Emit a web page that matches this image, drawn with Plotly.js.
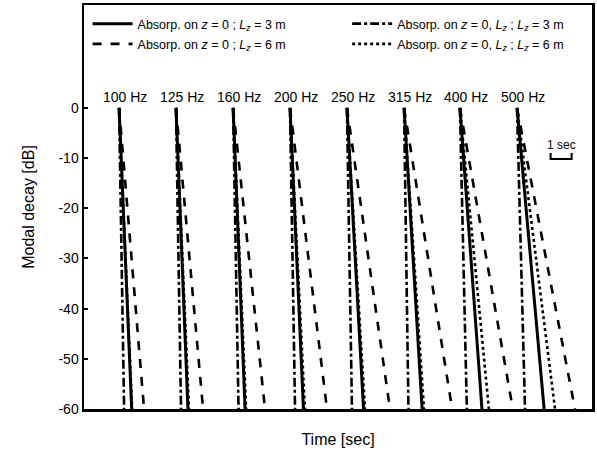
<!DOCTYPE html>
<html>
<head>
<meta charset="utf-8">
<script src="https://cdn.plot.ly/plotly-3.0.1.min.js"></script>
<style>html,body{margin:0;padding:0;background:#fff;}#chart{width:597px;height:464px;}</style>
</head>
<body>
<div id="chart"></div>
<script>
// Frequency bands and the time (s) at which each band's decay starts
const bands = ["100 Hz", "125 Hz", "160 Hz", "200 Hz", "250 Hz", "315 Hz", "400 Hz", "500 Hz"];
const startTimes = [1.67, 4.38, 7.10, 9.81, 12.52, 15.24, 17.90, 20.62];

// Decay level range (dB)
const levelStart = 0;
const levelEnd = -60;

// Time (s) needed to decay 60 dB, per band, for each configuration
const t60_z0_Lz3   = [0.60, 0.57, 0.57, 0.64, 0.79, 0.86, 1.05, 1.29]; // solid
const t60_z0Lz_Lz3 = [0.24, 0.24, 0.26, 0.24, 0.24, 0.21, 0.33, 0.38]; // dash-dot
const t60_z0_Lz6   = [1.19, 1.29, 1.52, 1.76, 2.05, 2.29, 2.52, 2.76]; // dashed
const t60_z0Lz_Lz6 = [0.62, 0.62, 0.62, 0.71, 0.86, 0.95, 1.38, 1.81]; // dotted

const names = [
  "Absorp. on <i>z</i> = 0 ; <i>L<sub>z</sub></i> = 3 m",
  "Absorp. on <i>z</i> = 0, <i>L<sub>z</sub></i> ; <i>L<sub>z</sub></i> = 3 m",
  "Absorp. on <i>z</i> = 0 ; <i>L<sub>z</sub></i> = 6 m",
  "Absorp. on <i>z</i> = 0, <i>L<sub>z</sub></i> ; <i>L<sub>z</sub></i> = 6 m"
];
const series = [t60_z0_Lz3, t60_z0Lz_Lz3, t60_z0_Lz6, t60_z0Lz_Lz6];
const dashes = ["solid", "dashdot", "dash", "dot"];
const widths = [3, 2.6, 2.6, 2.6];
const legendOf = ["legend", "legend2", "legend", "legend2"];

const FONT = "Liberation Sans, Arial, Helvetica, sans-serif";

const traces = series.map((t60, i) => {
  const x = [], y = [];
  startTimes.forEach((s, k) => {
    x.push(s, s + t60[k], null);
    y.push(levelStart, levelEnd, null);
  });
  return {
    type: "scatter", mode: "lines", x: x, y: y, name: names[i],
    legend: legendOf[i], legendgroup: "g" + i,
    connectgaps: false, cliponaxis: true,
    line: {color: "#000", width: widths[i], dash: dashes[i]}
  };
});

const annotations = bands.map((b, k) => ({
  x: startTimes[k] + 0.3, y: 2.2, xref: "x", yref: "y",
  text: b, showarrow: false, font: {family: FONT, size: 14, color: "#000"},
  xanchor: "center", yanchor: "middle"
}));

// 1 second scale bar
const scaleLen = 1;
const scaleX0 = 22.22, scaleYTop = -9.0, scaleYBot = -10.2;
annotations.push({
  x: scaleX0 + scaleLen / 2, y: -7.4, xref: "x", yref: "y",
  text: "1 sec", showarrow: false, font: {family: FONT, size: 12, color: "#000"},
  xanchor: "center", yanchor: "middle"
});

const legendBase = {
  orientation: "v", y: 0.99, xanchor: "left", yanchor: "top",
  itemwidth: 40, tracegroupgap: 1,
  font: {family: FONT, size: 12.5, color: "#000"},
  bgcolor: "rgba(0,0,0,0)", borderwidth: 0
};

const layout = {
  width: 597, height: 464,
  margin: {l: 84, r: 5, t: 5, b: 55},
  paper_bgcolor: "#fff", plot_bgcolor: "#fff",
  font: {family: FONT, color: "#000"},
  showlegend: true,
  legend: Object.assign({}, legendBase, {x: 0.007}),
  legend2: Object.assign({}, legendBase, {x: 0.518}),
  xaxis: {
    range: [0, 24.19], showgrid: false, zeroline: false,
    showline: true, linecolor: "#000", linewidth: 2.5, mirror: true,
    ticks: "", showticklabels: false,
    title: {text: "Time [sec]", font: {family: FONT, size: 16, color: "#000"}, standoff: 24}
  },
  yaxis: {
    range: [-60, 20.5], showgrid: false, zeroline: false,
    showline: true, linecolor: "#000", linewidth: 2.5, mirror: true,
    tickvals: [0, -10, -20, -30, -40, -50, -60],
    ticktext: ["0", "-10", "-20", "-30", "-40", "-50", "-60"],
    ticks: "inside", ticklen: 4, tickwidth: 2, tickcolor: "#000",
    tickfont: {family: FONT, size: 14, color: "#000"},
    title: {text: "Modal decay [dB]", font: {family: FONT, size: 16, color: "#000"}, standoff: 20}
  },
  shapes: [{
    type: "path", xref: "x", yref: "y",
    path: "M " + scaleX0 + "," + scaleYTop + " L " + scaleX0 + "," + scaleYBot +
          " L " + (scaleX0 + scaleLen) + "," + scaleYBot + " L " + (scaleX0 + scaleLen) + "," + scaleYTop,
    line: {color: "#000", width: 2}
  }],
  annotations: annotations
};

Plotly.newPlot("chart", traces, layout, {displayModeBar: false, staticPlot: true});
</script>
</body>
</html>
